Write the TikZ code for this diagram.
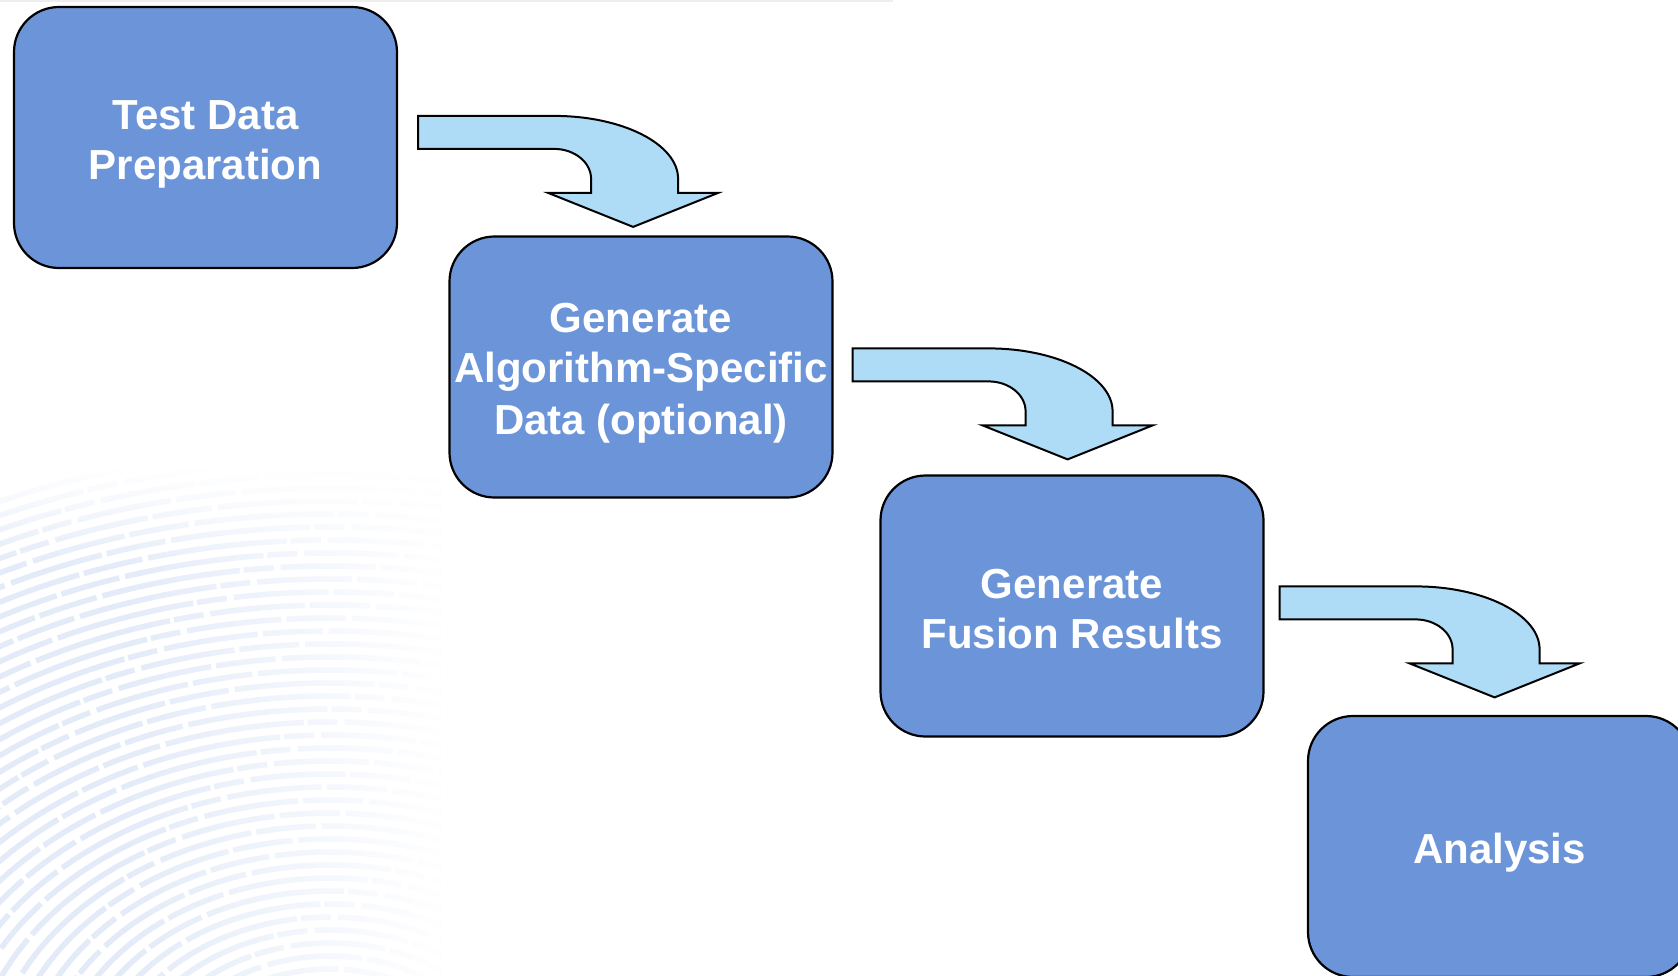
\documentclass[tikz,border=0pt]{standalone}
\usepackage{fontspec}
\setmainfont{Liberation Sans}
\usetikzlibrary{calc,fadings}

\definecolor{boxblue}{RGB}{107,149,216}
\definecolor{arrowblue}{RGB}{174,219,245}
\definecolor{ridge}{RGB}{227,235,249}
\definecolor{rulegrey}{RGB}{238,238,238}

% fixed line metrics so every label sits the same way in its box
\newcommand\lnstrut{\rule[-8pt]{0pt}{50pt}}

\tikzfading[name=fadeleft, left color=transparent!100, right color=transparent!0]
\tikzfading[name=fadedown, top color=transparent!0, bottom color=transparent!100]

\tikzset{
  stepbox/.style={draw=black, line width=2.2pt, fill=boxblue, rounded corners=45pt,
    minimum width=383pt, minimum height=261pt, inner sep=0pt, align=center,
    text=white, font=\fontsize{42}{50}\selectfont\bfseries},
  arrowbody/.style={draw=black, line width=2pt, fill=arrowblue, line join=miter},
  ridgeline/.style={draw=ridge, line width=5.5pt,
    dash pattern=on 140pt off 6pt on 60pt off 5pt on 95pt off 7pt on 30pt off 4pt},
  bentarrow/.pic={
    \draw[arrowbody] (0,0) -- (136,0)
      arc[start angle=90, end angle=0, x radius=124pt, y radius=63pt]
      -- (260,-77) -- (300,-77) -- (215,-111) -- (130,-77) -- (173,-77) -- (173,-63)
      arc[start angle=0, end angle=90, x radius=37pt, y radius=30pt]
      -- (0,-33) -- cycle;
  }
}

\begin{document}
\begin{tikzpicture}[x=1pt, y=1pt]
  \useasboundingbox (0,0) rectangle (1678,-975);
  \fill[white] (0,0) rectangle (1678,-975);

  % faint fingerprint watermark in the lower left
  \begin{scope}
    \clip (0,-470) rectangle (440,-975);
    \foreach \r in {30,43,...,650} {
      \draw[ridgeline] (330,-1090) ellipse [x radius=1.3*\r pt, y radius=\r pt];
    }
    \fill[white, path fading=fadeleft] (120,-470) rectangle (441,-976);
    \fill[white, path fading=fadedown] (-1,-469) rectangle (441,-570);
  \end{scope}

  % thin rule along the top edge
  \draw[rulegrey, line width=2pt] (0,-1) -- (893,-1);

  % process steps
  \node[stepbox] (b1) at (205.5,-137.5) {\lnstrut Test Data\\\lnstrut Preparation};
  \node[stepbox] (b2) at (641,-367) {\lnstrut Generate\\\lnstrut Algorithm-Specific\\\lnstrut Data (optional)};
  \node[stepbox] (b3) at (1072,-606) {\lnstrut Generate\\\lnstrut Fusion Results};
  \node[stepbox] (b4) at (1499.5,-846.5) {\lnstrut Analysis};

  % bent block arrows between consecutive steps
  \pic (a1) at ($(b1.north east)+(20,-110)$) {bentarrow};
  \pic (a2) at ($(b2.north east)+(19,-113)$) {bentarrow};
  \pic (a3) at ($(b3.north east)+(15,-112)$) {bentarrow};
\end{tikzpicture}
\end{document}
